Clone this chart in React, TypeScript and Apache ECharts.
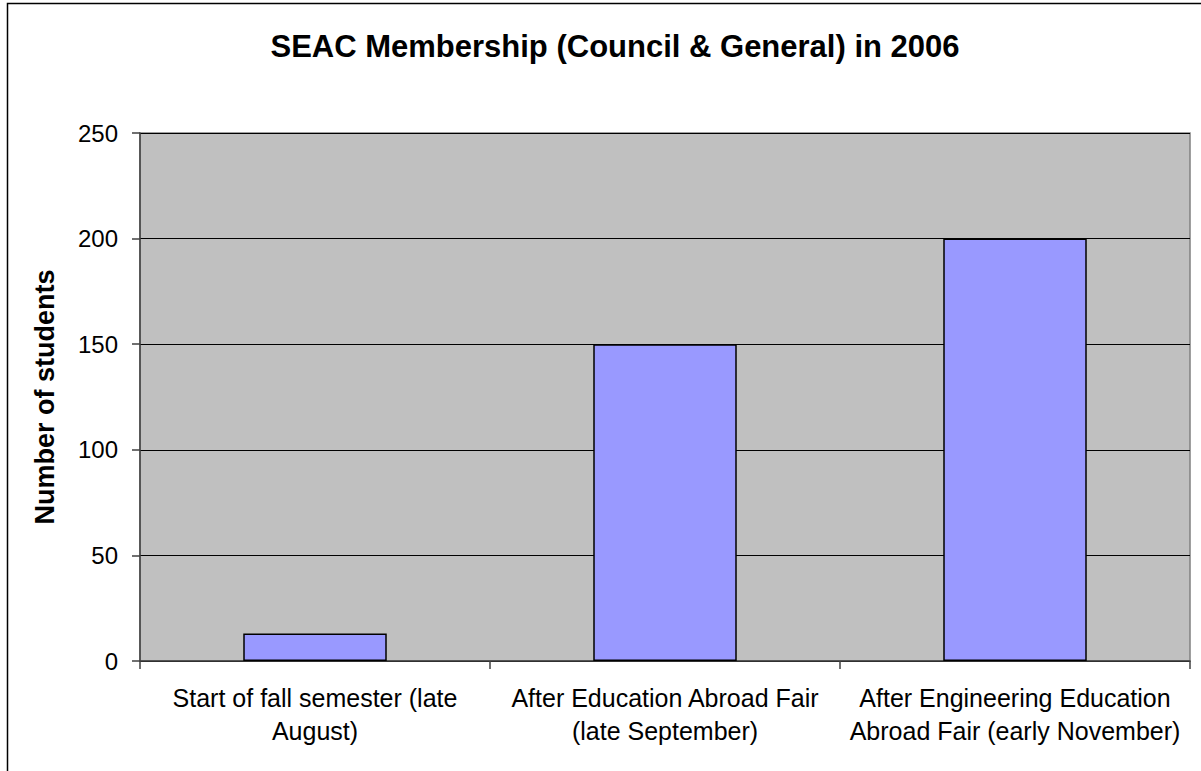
import React, { useEffect, useRef } from "react";
import * as echarts from "echarts";

const title = "SEAC Membership (Council & General) in 2006";
const categories = [
  "Start of fall semester (late\nAugust)",
  "After Education Abroad Fair\n(late September)",
  "After Engineering Education\nAbroad Fair (early November)",
];
const students = [13, 150, 200];
const yAxisName = "Number of students";

export default function App() {
  const ref = useRef<HTMLDivElement>(null);
  useEffect(() => {
    const chart = echarts.init(ref.current!, null, { renderer: "svg" });
    chart.setOption({
      animation: false,
      backgroundColor: "#ffffff",
      textStyle: { fontFamily: "Liberation Sans" },
      title: {
        text: title,
        left: 610,
        textAlign: "center",
        top: 26,
        textStyle: { fontFamily: "Liberation Sans", fontSize: 31, fontWeight: "bold", color: "#000" },
      },
      graphic: [
        {
          type: "rect",
          shape: { x: 7.5, y: 3.5, width: 1300, height: 900 },
          style: { fill: "none", stroke: "#000", lineWidth: 1.5 },
          silent: true,
          z: -1,
        },
      ],
      grid: {
        left: 140,
        right: 11,
        top: 133,
        bottom: 110,
        show: true,
        backgroundColor: "#C0C0C0",
        borderColor: "#808080",
        borderWidth: 1.5,
      },
      xAxis: {
        type: "category",
        data: categories,
        axisLine: { show: true, lineStyle: { color: "#404040", width: 1.5 } },
        axisTick: { show: true, alignWithLabel: false, length: 8, lineStyle: { color: "#404040", width: 1.5 } },
        axisLabel: {
          fontFamily: "Liberation Sans",
          fontSize: 25,
          color: "#000",
          margin: 20,
          lineHeight: 33,
          interval: 0,
          align: "center",
        },
      },
      yAxis: {
        type: "value",
        min: 0,
        max: 250,
        interval: 50,
        name: yAxisName,
        nameLocation: "middle",
        nameGap: 82,
        nameTextStyle: { fontFamily: "Liberation Sans", fontSize: 27, fontWeight: "bold", color: "#000" },
        axisLine: { show: true, lineStyle: { color: "#404040", width: 1.5 } },
        axisTick: { show: true, length: 8, lineStyle: { color: "#404040", width: 1.5 } },
        axisLabel: { fontFamily: "Liberation Sans", fontSize: 24, color: "#000", margin: 22 },
        splitLine: { show: true, lineStyle: { color: "#000", width: 1 } },
      },
      series: [
        {
          type: "bar",
          data: students,
          barWidth: "41%",
          itemStyle: { color: "#9999FF", borderColor: "#000", borderWidth: 1.5 },
        },
      ],
    });
    return () => chart.dispose();
  }, []);
  return (
    <div
      ref={ref}
      style={{ position: "fixed", left: 0, top: 0, width: 1201, height: 771 }}
    />
  );
}
